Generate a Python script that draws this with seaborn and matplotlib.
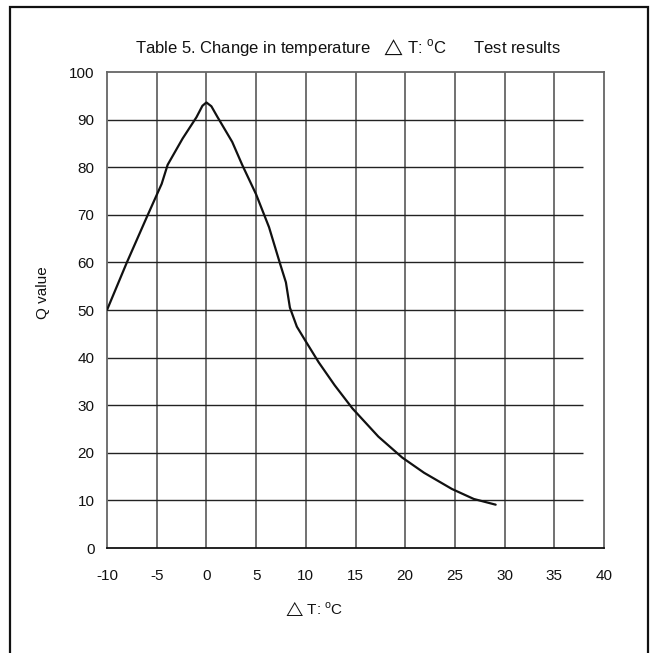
import matplotlib
matplotlib.use("Agg")
import matplotlib.pyplot as plt
import seaborn as sns
import pandas as pd
from matplotlib.patches import Rectangle

# ---- data ----
delta_t = [-10, -8, -6, -4.5, -3.9, -2.4, -1, -0.4, 0, 0.5, 1.1, 2.6, 3.6, 5, 6.3, 7.4,
           8.0, 8.4, 9.1, 10, 11.3, 12.9, 14.7, 17.3, 19.7, 21.9, 24.7, 26.9, 29.1]
q_value = [50, 60, 69.5, 76.5, 80.5, 86, 90.5, 92.9, 93.6, 92.8, 90.6, 85.3, 80.5, 74.3, 67.4, 59.8,
           55.8, 50.5, 46.5, 43.4, 39, 34.2, 29.3, 23.4, 19, 15.8, 12.4, 10.3, 9.1]
x_ticks = [-10, -5, 0, 5, 10, 15, 20, 25, 30, 35, 40]
y_ticks = [0, 10, 20, 30, 40, 50, 60, 70, 80, 90, 100]
title_text = "Table 5. Change in temperature   $\u25b3$ T: $^{\\mathrm{o}}$C      Test results"
x_label = "$\u25b3$ T: $^{\\mathrm{o}}$C"
y_label = "Q value"

sns.set_theme(style="white")
plt.rcParams["font.family"] = ["Liberation Sans", "DejaVu Sans"]
plt.rcParams["mathtext.fontset"] = "custom"
plt.rcParams["mathtext.rm"] = "Liberation Sans"
plt.rcParams["mathtext.it"] = "Liberation Sans"
plt.rcParams["mathtext.fallback"] = "stixsans"

df = pd.DataFrame({"dT": delta_t, "Q": q_value})

fig = plt.figure(figsize=(6.51, 6.53), dpi=100)
ax = fig.add_axes([107 / 651, 1 - 548 / 653, (604 - 107) / 651, (548 - 72) / 653])

# grid lines
ax.vlines(x_ticks[1:-1], 0, 100, colors="#666666", linewidth=1.3, zorder=1)
ax.hlines(y_ticks[1:-1], -10, 37.9, colors="#222222", linewidth=1.0, zorder=1)

sns.lineplot(data=df, x="dT", y="Q", sort=False, estimator=None,
             color="#111111", linewidth=1.6, ax=ax, zorder=3)

ax.set_xlim(-10, 40)
ax.set_ylim(0, 100)
ax.set_xticks(x_ticks)
ax.set_yticks(y_ticks)
ax.set_xticklabels([str(v) for v in x_ticks])
ax.set_yticklabels([str(v) for v in y_ticks])
ax.tick_params(axis="x", length=0, pad=15, labelsize=11, colors="#111111")
ax.tick_params(axis="y", length=0, pad=9, labelsize=11, colors="#111111")

for side in ["left", "right", "top"]:
    ax.spines[side].set_color("#666666")
    ax.spines[side].set_linewidth(1.3)
    ax.spines[side].set_visible(True)
ax.spines["bottom"].set_color("#111111")
ax.spines["bottom"].set_linewidth(1.3)
ax.spines["bottom"].set_visible(True)

ax.set_xlabel(x_label, fontsize=11, color="#111111")
ax.set_ylabel(y_label, fontsize=11, color="#111111")
ax.xaxis.set_label_coords(0.417, -0.107)
ax.yaxis.set_label_coords(-0.1147, 0.536)

fig.text(348 / 651, 1 - 47 / 653, title_text, ha="center", va="center",
         fontsize=12, color="#111111")

# outer frame
fig.add_artist(Rectangle((10 / 651, -0.05), (648 - 10) / 651, 1.05 - 7 / 653,
                         transform=fig.transFigure, fill=False,
                         edgecolor="#111111", linewidth=1.6))

fig.savefig("out.png", dpi=100)
